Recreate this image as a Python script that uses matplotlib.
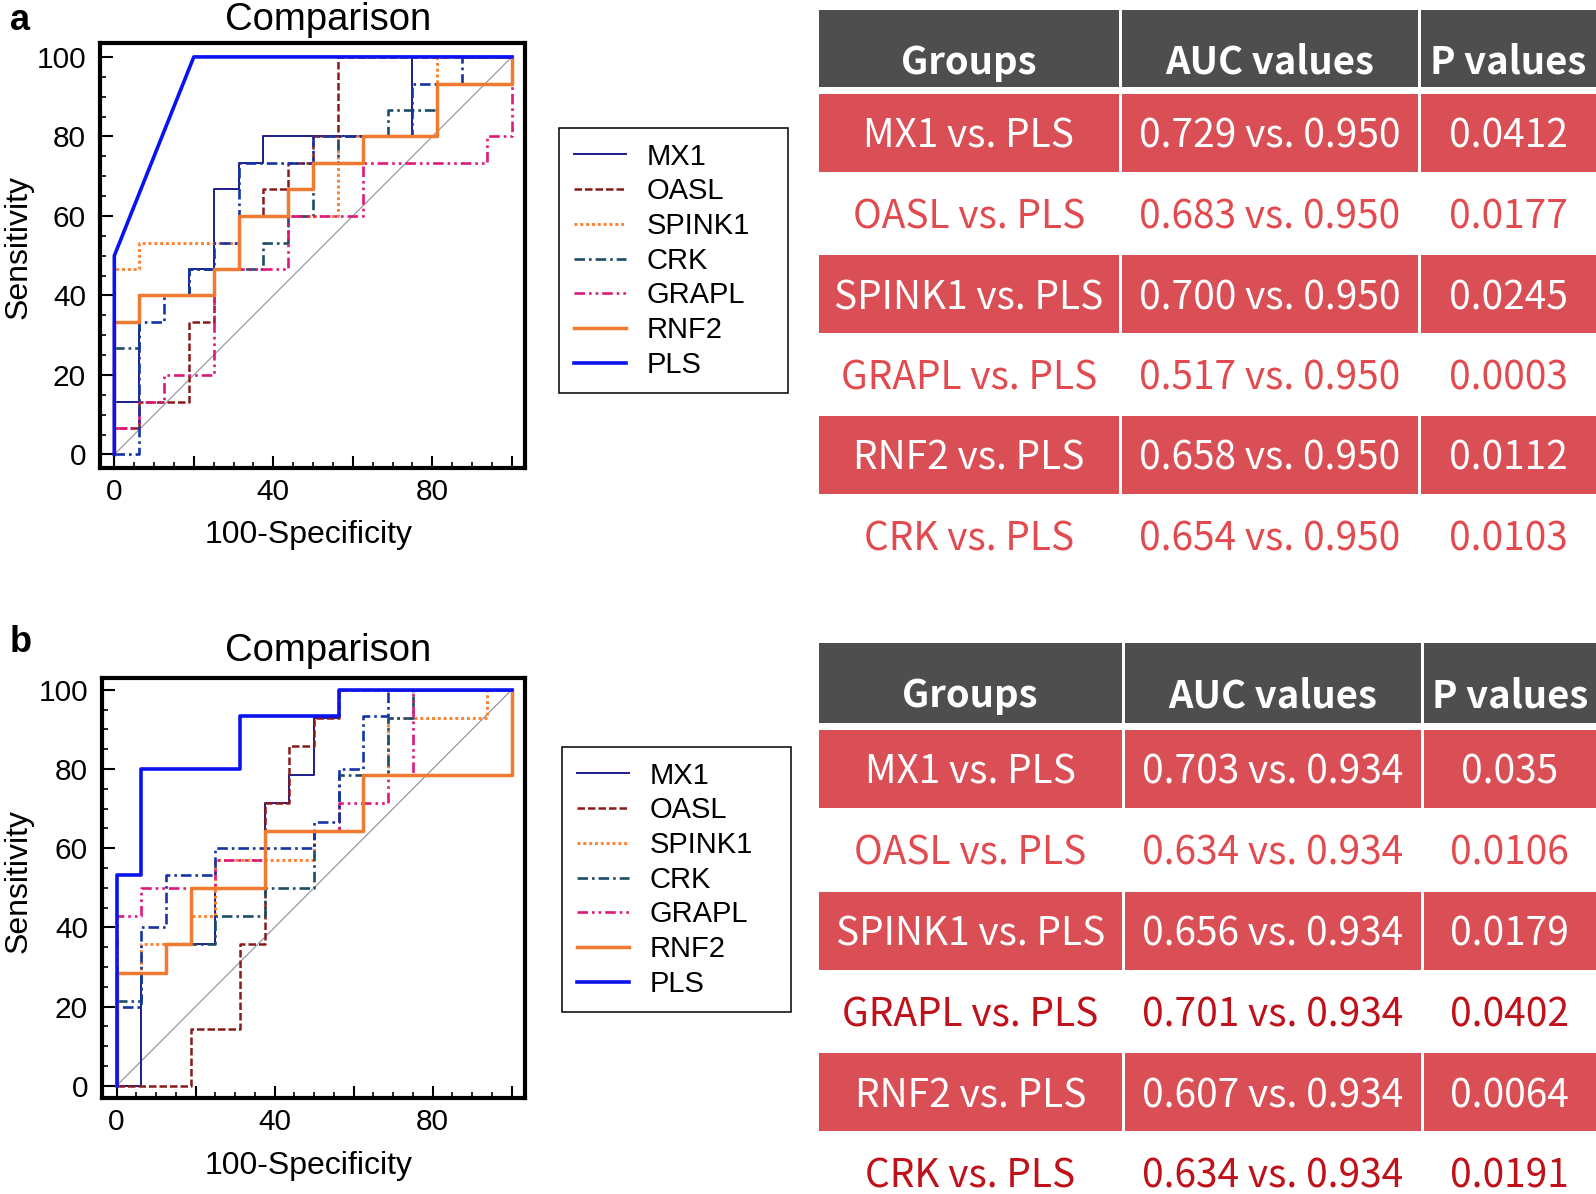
import matplotlib.pyplot as plt
from matplotlib import font_manager
from matplotlib.patches import Rectangle
from matplotlib.lines import Line2D
from matplotlib.ticker import MultipleLocator

plt.rcParams['font.family'] = ['Liberation Sans', 'DejaVu Sans']

W, H = 1596, 1194

names = ['MX1', 'OASL', 'SPINK1', 'CRK', 'GRAPL', 'RNF2', 'PLS']

# ---- panel a: ROC vertices (100-specificity, sensitivity) ----
a_x = {
    'MX1': [0, 0, 6.25, 6.25, 18.75, 18.75, 25, 25, 31.25, 31.25, 37.5, 37.5, 75, 75, 100],
    'OASL': [0, 0, 6.25, 6.25, 18.75, 18.75, 25, 25, 31.25, 31.25, 37.5, 37.5, 43.75, 43.75, 50, 50, 56.25, 56.25, 100],
    'SPINK1': [0, 0, 6.25, 6.25, 31.25, 31.25, 56.25, 56.25, 81.25, 81.25, 100],
    'CRK': [0, 0, 6.25, 6.25, 18.75, 18.75, 37.5, 37.5, 43.75, 43.75, 50, 50, 56.25, 56.25, 68.75, 68.75, 81.25, 81.25, 100, 100],
    'GRAPL': [0, 0, 6.25, 6.25, 12.5, 12.5, 25, 25, 43.75, 43.75, 62.5, 62.5, 93.75, 93.75, 100, 100],
    'RNF2': [0, 0, 6.25, 6.25, 25, 25, 31.25, 31.25, 43.75, 43.75, 50, 50, 62.5, 62.5, 81.25, 81.25, 100, 100],
    'PLS': [0, 0, 20, 100],
}
a_y = {
    'MX1': [0, 13.3, 13.3, 40, 40, 46.7, 46.7, 66.7, 66.7, 73.3, 73.3, 80, 80, 100, 100],
    'OASL': [0, 6.7, 6.7, 13.3, 13.3, 33.3, 33.3, 46.7, 46.7, 60, 60, 66.7, 66.7, 73.3, 73.3, 80, 80, 100, 100],
    'SPINK1': [0, 46.7, 46.7, 53.3, 53.3, 60, 60, 80, 80, 100, 100],
    'CRK': [0, 26.7, 26.7, 40, 40, 46.7, 46.7, 53.3, 53.3, 60, 60, 73.3, 73.3, 80, 80, 86.7, 86.7, 93.3, 93.3, 100],
    'GRAPL': [0, 6.7, 6.7, 13.3, 13.3, 20, 20, 46.7, 46.7, 60, 60, 73.3, 73.3, 80, 80, 100],
    'RNF2': [0, 33.3, 33.3, 40, 40, 46.7, 46.7, 60, 60, 66.7, 66.7, 73.3, 73.3, 80, 80, 93.3, 93.3, 100],
    'PLS': [0, 50, 100, 100],
}
# unlabelled dash-dot curve seen in panel a
a_extra_x = [0, 6.25, 6.25, 12.5, 12.5, 18.75, 18.75, 25, 25, 31.25, 31.25, 50, 50, 75, 75, 87.5, 87.5, 100]
a_extra_y = [0, 0, 33.3, 33.3, 40, 40, 46.7, 46.7, 53.3, 53.3, 73.3, 73.3, 80, 80, 93.3, 93.3, 100, 100]

# ---- panel b ----
b_x = {
    'MX1': [0, 6.25, 6.25, 12.5, 12.5, 25, 25, 37.5, 37.5, 43.75, 43.75, 50, 50, 56.25, 56.25, 100],
    'OASL': [0, 18.75, 18.75, 31.25, 31.25, 37.5, 37.5, 43.75, 43.75, 50, 50, 56.25, 56.25, 100],
    'SPINK1': [0, 0, 6.25, 6.25, 18.75, 18.75, 25, 25, 50, 50, 62.5, 62.5, 68.75, 68.75, 93.75, 93.75, 100],
    'CRK': [0, 0, 6.25, 6.25, 12.5, 12.5, 25, 25, 37.5, 37.5, 50, 50, 56.25, 56.25, 68.75, 68.75, 75, 75, 100],
    'GRAPL': [0, 0, 6.25, 6.25, 25, 25, 37.5, 37.5, 56.25, 56.25, 68.75, 68.75, 75, 75, 100],
    'RNF2': [0, 0, 12.5, 12.5, 18.75, 18.75, 37.5, 37.5, 62.5, 62.5, 100, 100],
    'PLS': [0, 0, 6.25, 6.25, 31.25, 31.25, 56.25, 56.25, 100],
}
b_y = {
    'MX1': [0, 0, 28.6, 28.6, 35.7, 35.7, 50, 50, 71.4, 71.4, 78.6, 78.6, 92.9, 92.9, 100, 100],
    'OASL': [0, 0, 14.3, 14.3, 35.7, 35.7, 71.4, 71.4, 85.7, 85.7, 92.9, 92.9, 100, 100],
    'SPINK1': [0, 28.6, 28.6, 35.7, 35.7, 42.9, 42.9, 57.1, 57.1, 64.3, 64.3, 78.6, 78.6, 92.9, 92.9, 100, 100],
    'CRK': [0, 21.4, 21.4, 28.6, 28.6, 35.7, 35.7, 42.9, 42.9, 50, 50, 64.3, 64.3, 78.6, 78.6, 92.9, 92.9, 100, 100],
    'GRAPL': [0, 42.9, 42.9, 50, 50, 57.1, 57.1, 64.3, 64.3, 71.4, 71.4, 78.6, 78.6, 100, 100],
    'RNF2': [0, 28.6, 28.6, 35.7, 35.7, 50, 50, 64.3, 64.3, 78.6, 78.6, 100],
    'PLS': [0, 53.3, 53.3, 80, 80, 93.3, 93.3, 100, 100],
}
b_extra_x = [0, 0, 6.25, 6.25, 12.5, 12.5, 25, 25, 50, 50, 56.25, 56.25, 62.5, 62.5, 68.75, 68.75, 100]
b_extra_y = [0, 20, 20, 40, 40, 53.3, 53.3, 60, 60, 66.7, 66.7, 80, 80, 93.3, 93.3, 100, 100]

# ---- tables ----
headers = ['Groups', 'AUC values', 'P values']
a_groups = ['MX1 vs. PLS', 'OASL vs. PLS', 'SPINK1 vs. PLS', 'GRAPL vs. PLS', 'RNF2 vs. PLS', 'CRK vs. PLS']
a_auc = ['0.729 vs. 0.950', '0.683 vs. 0.950', '0.700 vs. 0.950', '0.517 vs. 0.950', '0.658 vs. 0.950', '0.654 vs. 0.950']
a_p = ['0.0412', '0.0177', '0.0245', '0.0003', '0.0112', '0.0103']
b_groups = ['MX1 vs. PLS', 'OASL vs. PLS', 'SPINK1 vs. PLS', 'GRAPL vs. PLS', 'RNF2 vs. PLS', 'CRK vs. PLS']
b_auc = ['0.703 vs. 0.934', '0.634 vs. 0.934', '0.656 vs. 0.934', '0.701 vs. 0.934', '0.607 vs. 0.934', '0.634 vs. 0.934']
b_p = ['0.035', '0.0106', '0.0179', '0.0402', '0.0064', '0.0191']

styles = {
    'MX1': dict(color='#1c1c8c', lw=1.4, ls='-'),
    'OASL': dict(color='#8b1a1a', lw=1.8, ls=(0, (3, 1.2))),
    'SPINK1': dict(color='#ff8030', lw=2.1, ls=(0, (1, 1))),
    'CRK': dict(color='#1d4d66', lw=1.9, ls=(0, (4, 1.5, 1, 1.5))),
    'GRAPL': dict(color='#e0187c', lw=1.9, ls=(0, (4, 1.5, 1, 1.5, 1, 1.5))),
    'RNF2': dict(color='#f07a30', lw=2.5, ls='-'),
    'PLS': dict(color='#0a14f0', lw=2.6, ls='-'),
}
extra_style = dict(color='#1535a5', lw=1.9, ls=(0, (4, 1.5, 1, 1.5)))

# table font: a narrow face if there is one, else the CJK family's latin glyphs
try:
    font_manager.findfont('Liberation Sans Narrow', fallback_to_default=False)
    tfont, tsize, hsize = 'Liberation Sans Narrow', 32.5, 33
except ValueError:
    tfont, tsize, hsize = 'Noto Sans CJK SC', 28, 27.5

fig = plt.figure(figsize=(W / 100, H / 100), dpi=100)


def fx(x):
    return x / W


def fy(y):
    return 1 - y / H


def roc_panel(box, lim, xs, ys, ex_x, ex_y, letter, letter_y, title_y, xlab_y, ylab_y, leg_xy):
    l, r, t, b = box
    ax = fig.add_axes([fx(l), fy(b), (r - l) / W, (b - t) / H])
    ax.plot([0, 100], [0, 100], color='#8c8c9c', lw=0.8, zorder=1)
    for n in ['MX1', 'OASL', 'SPINK1', 'CRK', 'GRAPL']:
        ax.plot(xs[n], ys[n], zorder=2, **styles[n])
    ax.plot(ex_x, ex_y, zorder=3, **extra_style)
    ax.plot(xs['RNF2'], ys['RNF2'], zorder=3, **styles['RNF2'])
    ax.plot(xs['PLS'], ys['PLS'], zorder=4, **styles['PLS'])
    ax.set_xlim(lim[0], lim[1])
    ax.set_ylim(lim[2], lim[3])
    ax.set_xticks([0, 20, 40, 60, 80, 100])
    ax.set_xticklabels(['0', '', '40', '', '80', ''])
    ax.set_yticks([0, 20, 40, 60, 80, 100])
    ax.xaxis.set_minor_locator(MultipleLocator(5))
    ax.yaxis.set_minor_locator(MultipleLocator(5))
    ax.tick_params(which='major', direction='in', length=9, width=1.5, labelsize=21.5)
    ax.tick_params(which='minor', direction='in', length=4.5, width=1.2)
    ax.tick_params(axis='x', which='major', pad=7)
    ax.tick_params(axis='y', which='major', pad=10)
    for s in ax.spines.values():
        s.set_linewidth(3)
    fig.text(fx(10), fy(letter_y), letter, fontsize=26, fontweight='bold', va='baseline')
    fig.text(fx(328), fy(title_y), 'Comparison', fontsize=27.5, ha='center', va='baseline')
    fig.text(fx(309), fy(xlab_y), '100-Specificity', fontsize=23, ha='center', va='baseline')
    fig.text(fx(19), fy(ylab_y), 'Sensitivity', fontsize=23, ha='center', va='center', rotation=90)
    handles = [Line2D([], [], **styles[n]) for n in names]
    leg = fig.legend(handles, names, loc='upper left',
                     bbox_to_anchor=(fx(leg_xy[0]), fy(leg_xy[1] + 258), 229 / W, 258 / H),
                     mode='expand', fontsize=21, frameon=True, fancybox=False,
                     edgecolor='black', framealpha=1, borderpad=0.5, labelspacing=0.23,
                     handlelength=1.8, handletextpad=0.7, borderaxespad=0)
    leg.get_frame().set_linewidth(1.1)


roc_panel((100, 525, 43, 468), (-3.6, 103.3, -3.4, 103.5), a_x, a_y, a_extra_x, a_extra_y,
          'a', 30.5, 30.5, 543, 247, (559, 128))
roc_panel((102, 525, 678, 1098), (-3.7, 103.4, -3.1, 103.0), b_x, b_y, b_extra_x, b_extra_y,
          'b', 652, 661, 1174, 881, (562, 747))

ov = fig.add_axes([0, 0, 1, 1], zorder=-1)
ov.set_xlim(0, W)
ov.set_ylim(H, 0)
ov.axis('off')


def table(edges, head_top, head_h, row_top, pitch, groups, auc, pv, light_colors):
    for j, txt in enumerate(headers):
        x0 = edges[j] + (1.5 if j else 0)
        x1 = edges[j + 1] - (1.5 if j < 2 else 0)
        ov.add_patch(Rectangle((x0, head_top), x1 - x0, head_h, color='#4e4e4e', lw=0))
        ov.text((x0 + x1) / 2, head_top + 64, txt, color='white', fontsize=hsize, fontweight='bold',
                ha='center', va='baseline', family=[tfont, 'DejaVu Sans'])
    for i in range(len(groups)):
        top = row_top + pitch * i
        red = i % 2 == 0
        for j, txt in enumerate([groups[i], auc[i], pv[i]]):
            x0 = edges[j] + (1.5 if j else 0)
            x1 = edges[j + 1] - (1.5 if j < 2 else 0)
            if red:
                ov.add_patch(Rectangle((x0, top), x1 - x0, 78, color='#d94f55', lw=0))
            ov.text((x0 + x1) / 2, top + 54, txt, color='white' if red else light_colors[i],
                    fontsize=tsize, ha='center', va='baseline', family=[tfont, 'DejaVu Sans'])


table([819, 1120, 1419, 1596], 10, 77, 94, 80.5, a_groups, a_auc, a_p,
      ['#e14b50'] * 6)
table([819, 1123, 1422, 1596], 643, 80, 730, 80.75, b_groups, b_auc, b_p,
      ['', '#e14b50', '', '#c0101a', '', '#c0101a'])

fig.savefig('out.png', dpi=100)
